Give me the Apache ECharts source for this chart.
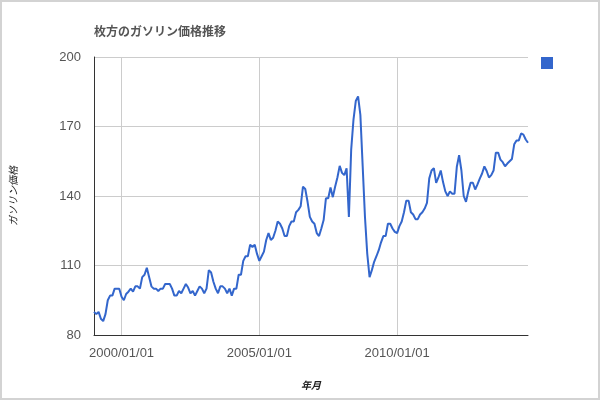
<!DOCTYPE html>
<html>
<head>
<meta charset="utf-8">
<script src="https://cdn.jsdelivr.net/npm/echarts@6/dist/echarts.min.js"></script>
<style>
html,body{margin:0;padding:0;background:#fff;}
#chart{width:600px;height:400px;}
</style>
</head>
<body>
<div id="chart"></div>
<script>
// Monthly categories: 1999/01 .. 2014/10
const startYear = 1999, startMonth = 1, monthCount = 190;
const categories = [];
for (let i = 0; i < monthCount; i++) {
  const m0 = startMonth - 1 + i;
  const y = startYear + Math.floor(m0 / 12);
  const m = (m0 % 12) + 1;
  categories.push(y + '/' + (m < 10 ? '0' + m : m) + '/01');
}
const xTickLabels = ['2000/01/01', '2005/01/01', '2010/01/01'];
const yTicks = [80, 110, 140, 170, 200];

const price1999 = [90, 89, 90, 87, 86, 89, 95, 97, 97, 100, 100, 100];
const price2000 = [96.5, 95, 97.7, 98.7, 100, 98.7, 101, 101, 100, 105, 106, 109];
const price2001 = [105, 101, 100, 100, 99, 100, 100, 102, 102, 102, 100, 97];
const price2002 = [97, 99, 98, 100, 102, 100.5, 98, 99, 97, 99, 101, 100];
const price2003 = [98, 100, 108, 107, 103, 100, 98, 101, 101, 100, 98, 100];
const price2004 = [97, 100, 100, 106, 106, 112, 114, 114, 119, 118, 119, 115];
const price2005 = [112, 114, 116, 121, 124, 121, 122, 125, 129, 128, 126, 122.7];
const price2006 = [122.7, 127, 129, 129, 133, 134, 135.6, 144, 143, 137.5, 131, 129];
const price2007 = [128, 124, 122.7, 126, 129.6, 139, 139, 143.7, 139.5, 144, 148, 153];
const price2008 = [150, 149, 152, 131, 160, 173, 181, 183, 175, 153, 131, 115];
const price2009 = [105, 108, 111.6, 114, 116.6, 120, 122.7, 122.7, 128, 128, 126, 124.5];
const price2010 = [124, 127, 129, 133, 138, 138, 133, 132, 130, 130, 132, 133];
const price2011 = [134.6, 137, 147.6, 151, 152, 145.7, 148, 151, 146, 142, 140, 142];
const price2012 = [141, 141, 152.6, 157.6, 151, 140, 137.5, 142, 145.7, 145.7, 142.8, 145];
const price2013 = [147.5, 149.7, 152.8, 150.8, 148, 149, 151, 158.7, 158.7, 155.7, 154.6, 152.8];
const price2014 = [154, 155, 156, 162.3, 164, 164, 167, 166.5, 164.4, 163];

const prices = [].concat(price1999, price2000, price2001, price2002, price2003,
  price2004, price2005, price2006, price2007, price2008, price2009, price2010,
  price2011, price2012, price2013, price2014);

const isTick = function (idx, val) { return xTickLabels.indexOf(val) >= 0; };

const chart = echarts.init(document.getElementById('chart'), null, {renderer: 'canvas'});
chart.setOption({
  animation: false,
  backgroundColor: '#fff',
  title: {
    text: '枚方のガソリン価格推移',
    left: 89, top: 20,
    textStyle: {fontFamily: '"Noto Sans CJK JP", sans-serif', fontSize: 12, fontWeight: 'bold', color: '#555'}
  },
  legend: {
    data: ['ガソリン価格'],
    left: 541, top: 57,
    padding: 0,
    icon: 'rect', itemWidth: 12, itemHeight: 12,
    formatter: function () { return ''; },
    itemGap: 0
  },
  graphic: [{
    type: 'rect', silent: true,
    shape: {x: 1, y: 1, width: 598, height: 398},
    style: {fill: 'none', stroke: '#d3d3d3', lineWidth: 2}
  }],
  grid: {left: 93, right: 72, top: 57, bottom: 65, containLabel: false},
  xAxis: {
    type: 'category',
    data: categories,
    boundaryGap: false,
    name: '年月',
    nameLocation: 'middle',
    nameGap: 45,
    nameTextStyle: {fontFamily: '"Noto Sans CJK JP", sans-serif', fontSize: 10, fontStyle: 'italic', fontWeight: 'bold', color: '#222'},
    axisLine: {show: true, lineStyle: {color: '#333', width: 1}},
    axisTick: {show: false},
    axisLabel: {interval: isTick, color: '#555', fontSize: 13, fontFamily: 'Liberation Sans, Arial, sans-serif', margin: 12},
    splitLine: {show: true, interval: isTick, lineStyle: {color: '#ccc', width: 1}}
  },
  yAxis: {
    type: 'value',
    min: yTicks[0], max: yTicks[yTicks.length - 1], interval: 30,
    name: 'ガソリン価格',
    nameLocation: 'middle',
    nameGap: 76,
    nameTextStyle: {fontFamily: '"Noto Sans CJK JP", sans-serif', fontSize: 10, fontStyle: 'italic', color: '#222'},
    axisLine: {show: true, lineStyle: {color: '#333', width: 1}},
    axisTick: {show: false},
    axisLabel: {color: '#555', fontSize: 13, fontFamily: 'Liberation Sans, Arial, sans-serif', margin: 13},
    splitLine: {show: true, lineStyle: {color: '#ccc', width: 1}}
  },
  series: [{
    name: 'ガソリン価格',
    type: 'line',
    data: prices,
    showSymbol: false,
    symbol: 'none',
    lineStyle: {color: '#3366cc', width: 2},
    itemStyle: {color: '#3366cc'}
  }]
});
</script>
</body>
</html>
